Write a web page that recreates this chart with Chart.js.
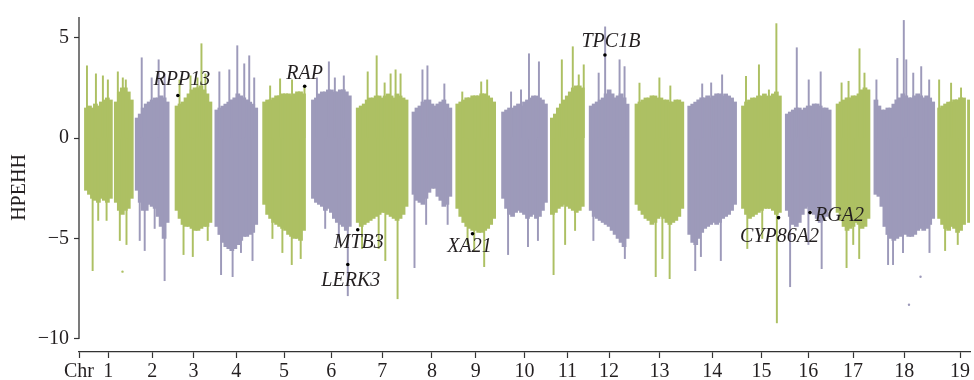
<!DOCTYPE html>
<html>
<head>
<meta charset="utf-8">
<script src="https://cdn.jsdelivr.net/npm/chart.js@4.4.1/dist/chart.umd.min.js"></script>
<style>
  html, body { margin: 0; padding: 0; background: #fff; }
  #wrap { width: 974px; height: 380px; }
</style>
</head>
<body>
<div id="wrap"><canvas id="chart"></canvas></div>
<script>
// chromosome extents along the genome axis (cumulative Mb)
const chrNames = ['1','2','3','4','5','6','7','8','9','10','11','12','13','14','15','16','17','18','19'];
const chrStart = [6, 57, 97, 137, 185, 234, 279, 335, 379, 425, 474, 513, 559, 612, 666, 710, 761, 799, 863];
const chrEnd   = [53, 90, 133, 179, 227, 273, 330, 374, 418, 470, 507, 552, 607, 660, 705, 755, 794, 859, 907];

// dense band of HPEHH values per chromosome, in 3 Mb windows (upper / lower edge)
const bodyHigh = [
  [1.5,1.6,1.5,1.7,1.6,1.8,1.9,2.0,1.9,null,1.8,2.3,2.5,2.5,2.3,1.9],
  [1.0,1.2,1.5,1.7,1.8,1.9,2.0,2.0,2.1,2.0,1.8],
  [1.6,1.7,1.8,2.0,2.2,2.4,2.5,2.5,2.6,2.4,2.2,1.8],
  [1.4,1.5,1.6,1.7,1.8,1.9,2.0,2.2,2.1,2.0,1.9,1.8,1.7,1.5],
  [1.8,1.9,1.9,2.0,2.1,2.1,2.2,2.2,2.2,2.1,2.2,2.3,2.3,2.2],
  [1.9,2.0,2.2,2.3,2.3,2.4,2.4,2.3,2.3,2.4,2.4,2.3,2.1],
  [1.5,1.6,1.7,1.9,2.0,2.0,2.1,2.1,2.0,2.1,2.2,2.1,2.0,2.2,2.1,2.0,1.9],
  [1.3,1.5,1.6,1.8,1.9,1.9,1.7,1.6,1.7,1.8,1.9,1.7,1.5],
  [1.7,1.8,1.9,2.0,2.0,2.1,2.1,2.1,2.2,2.2,2.1,2.0,1.8],
  [1.3,1.4,1.5,1.5,1.6,1.7,1.6,1.8,1.9,2.0,2.1,2.1,2.0,1.9,1.7],
  [1.0,1.2,1.5,1.7,1.9,2.1,2.3,2.5,2.6,2.6,2.5],
  [1.6,1.7,1.8,1.9,2.0,2.2,2.4,2.2,2.0,2.1,2.2,2.0,1.7],
  [1.7,1.8,1.9,2.0,2.0,2.1,2.1,2.0,2.0,1.9,1.9,1.8,1.8,1.9,1.9,1.8],
  [1.6,1.7,1.8,1.9,2.0,2.0,2.1,2.0,2.1,2.2,2.2,2.1,2.2,2.1,2.0,1.8],
  [1.6,1.8,1.9,2.0,2.0,2.1,2.1,2.2,2.1,2.1,2.2,2.3,2.1],
  [1.2,1.3,1.4,1.5,1.5,1.4,1.5,1.6,1.6,1.7,1.7,1.6,1.5,1.5,1.4],
  [1.7,1.8,1.9,2.0,2.0,2.1,2.1,2.2,2.4,2.5,2.4],
  [1.9,1.6,1.4,1.4,1.5,1.5,1.7,1.9,2.0,2.2,2.1,2.0,2.0,2.1,2.2,2.1,2.0,2.1,2.0,1.8],
  [1.5,1.6,1.7,1.8,1.8,1.9,1.9,2.0,2.0,null,1.9,1.9,1.9,1.9,1.9]
];
const bodyLow = [
  [-2.6,-2.8,-3.0,-3.1,-3.2,-3.0,-3.1,-3.2,-3.0,null,-3.2,-3.6,-3.8,-3.6,-3.5,-3.0],
  [-2.6,-3.2,-3.6,-3.6,-3.3,-3.4,-3.5,-3.9,-4.4,-5.0,-4.2],
  [-3.6,-4.0,-4.3,-4.4,-4.4,-4.5,-4.6,-4.6,-4.5,-4.4,-4.4,-4.2],
  [-4.4,-4.8,-5.2,-5.4,-5.5,-5.6,-5.5,-5.3,-5.1,-4.9,-4.9,-4.8,-4.7,-4.3],
  [-3.3,-3.8,-4.0,-4.2,-4.3,-4.4,-4.5,-4.6,-4.8,-4.9,-5.0,-5.0,-5.1,-4.6],
  [-3.0,-3.2,-3.3,-3.4,-3.6,-3.5,-3.7,-4.0,-4.2,-4.3,-4.4,-4.6,-4.4],
  [-4.2,-4.4,-4.3,-4.2,-4.1,-4.0,-3.9,-3.8,-3.7,-3.7,-3.8,-3.9,-4.0,-4.1,-4.0,-3.8,-3.4],
  [-2.8,-3.1,-3.2,-3.3,-3.0,-2.7,-2.5,-2.5,-2.9,-3.1,-3.4,-3.3,-2.9],
  [-3.5,-3.9,-4.2,-4.4,-4.5,-4.6,-4.6,-4.7,-4.7,-4.6,-4.5,-4.3,-4.0],
  [-3.0,-3.5,-3.8,-3.9,-3.7,-3.6,-3.7,-3.8,-4.0,-3.9,-3.8,-4.0,-3.9,-3.6,-3.2],
  [-3.8,-3.7,-3.5,-3.4,-3.3,-3.4,-3.5,-3.6,-3.7,-3.6,-3.4],
  [-3.6,-3.9,-4.0,-4.1,-4.2,-4.3,-4.4,-4.6,-4.8,-5.0,-5.2,-5.4,-5.0],
  [-3.3,-3.6,-3.8,-4.0,-4.1,-4.3,-4.2,-4.0,-3.9,-4.0,-4.2,-4.3,-4.2,-4.1,-3.9,-3.5],
  [-4.8,-5.2,-5.3,-5.0,-4.7,-4.5,-4.4,-4.3,-4.2,-4.3,-4.2,-4.0,-3.9,-3.8,-3.6,-3.3],
  [-3.5,-3.8,-4.0,-3.9,-3.8,-3.7,-3.6,-3.5,-3.5,-3.5,-3.6,-3.8,-3.7],
  [-3.6,-3.9,-4.3,-4.4,-4.2,-3.8,-3.5,-3.4,-3.6,-3.8,-4.0,-4.2,-4.1,-3.9,-3.6],
  [-3.7,-4.1,-4.4,-4.6,-4.5,-4.4,-4.2,-4.3,-4.5,-4.4,-4.0],
  [-2.8,-2.9,-3.4,-4.4,-4.8,-5.0,-5.1,-5.0,-4.9,-4.7,-4.8,-4.9,-4.9,-4.8,-4.6,-4.5,-4.6,-4.5,-4.3,-4.0],
  [-4.0,-4.3,-4.5,-4.6,-4.4,-4.5,-4.7,-4.6,-4.3,null,-4.2,-4.2,-4.2,-4.2,-4.2]
];

// isolated peaks above / below the dense band
const peakX = [8,17,24,29,39,44,47, 63,80,73,86, 101,112,123,119,127, 141,151,159,166,171,176,
  192,202,214,226.5, 239,251,257,266, 290,299,307,313,318,323, 345,350,367, 385,404,410,
  434,444,452,462, 485,496,502,507, 522,528.5,543,548, 563,583,594, 626,635,646,
  670,683,693,700.5, 721,733,745, 766,773,784,789, 801,822,828.5,831,838,846,854, 864,876,886];
const peakY = [3.6,3.2,3.1,2.9,3.3,3.0,2.9, 4.0,3.9,3.0,3.2, 2.9,3.1,4.7,3.0,3.2, 3.3,3.4,4.6,3.7,4.1,3.0,
  2.6,2.95,2.9,2.6, 3.0,3.8,3.0,3.1, 3.3,4.1,2.75,3.2,3.4,3.2, 3.4,3.6,2.7, 2.3,2.8,2.9,
  2.3,2.4,4.2,3.8, 3.9,4.55,3.15,3.65, 3.24,5.54,3.9,3.56, 2.74,3.0,2.6, 2.7,2.75,3.15,
  3.07,3.65,2.4,5.7, 4.5,2.9,3.3, 2.75,2.83,4.45,3.24, 2.9,3.97,5.86,3.9,3.24,3.56,2.9, 2.9,2.74,2.5];
const dipX = [13.7,19.3,27.7,41,47.7, 61,66,76,86, 105,114.3,129.3, 142.7,154.3,162.7,174.3,
  194.3,204.3,213.7,222.7, 247.3,261,270, 284.3,301,307.7,320, 337,348.7,370.3, 390.3,397,407,
  431,451,461, 476.7,488.3,498.3, 516.7,548.3, 579.3,586,593.3, 619,624.7,644.7,
  671.3,686.3,701, 714.3,732.7,746, 771,777.7,783.7, 812.7,817.7,827.7,854.3, 870,882.7];
const dipY = [-6.6,-4.1,-4.1,-5.1,-5.3, -5.1,-5.6,-4.5,-7.1, -5.8,-5.9,-5.1, -6.8,-6.9,-5.7,-6.1,
  -5.0,-5.7,-6.3,-6.0, -4.5,-5.2,-7.85, -5.5,-5.5,-6.1,-8.0, -6.45,-4.3,-4.3, -5.3,-5.6,-6.4,
  -5.8,-5.4,-5.1, -6.8,-5.3,-4.6, -5.1,-6.0, -6.9,-6.0,-7.0, -6.6,-5.9,-6.1,
  -5.5,-5.0,-9.2, -7.4,-5.3,-6.5, -6.45,-5.3,-6.0, -6.3,-6.3,-5.7,-5.7, -5.6,-5.3];
const strayX = [43.7, 833.7, 845.3];
const strayY = [-6.65, -8.3, -6.9];

// candidate genes
const geneNames = ['RPP13','RAP','TPC1B','MTB3','LERK3','XA21','CYP86A2','RGA2'];
const geneX = [99.3, 226.7, 528.3, 280, 270, 395.3, 702.7, 734.3];
const geneY = [2.12, 2.58, 4.14, -4.56, -6.29, -4.76, -3.96, -3.71];

const yTicks = [-10, -5, 0, 5];
const xTickLabels = ['Chr'].concat(chrNames);
const xTickPos = [0].concat(chrStart.map((s, i) => (s + chrEnd[i]) / 2));

const colors = ['#adc063', '#9d9aba'];
const serif = '"Liberation Serif", "Times New Roman", serif';

function chrOf(x) {
  for (let i = 0; i < chrStart.length; i++) {
    if (x <= chrEnd[i] + 2) return i;
  }
  return chrStart.length - 1;
}

const bodyData = [];
bodyHigh.forEach((his, c) => {
  his.forEach((hi, k) => {
    if (hi === null) return;
    bodyData.push({ x: chrStart[c] + 1.5 + 3 * k, y: [bodyLow[c][k], hi], c: c });
  });
});
const peakData = peakX.map((x, i) => ({ x: x, y: [0, peakY[i]], c: chrOf(x) }))
  .concat(dipX.map((x, i) => ({ x: x, y: [dipY[i], 0], c: chrOf(x) })));
const strayData = strayX.map((x, i) => ({ x: x, y: strayY[i], c: chrOf(x) }));
const geneData = geneX.map((x, i) => ({ x: x, y: geneY[i] }));

// label offsets from the gene dot, in px
const labelDx = [4, 0, 6, 1, 3, -3, 1, 5];
const labelDy = [-16, -13, -13, 13, 16, 13, 19, 3];
const labelAlign = ['center','center','center','center','center','center','center','left'];

const byChr = ctx => colors[ctx.raw ? ctx.raw.c % 2 : 0];

const overlay = {
  id: 'overlay',
  afterDraw(chart) {
    const { ctx, chartArea, scales } = chart;
    const x = scales.x, y = scales.y;
    ctx.save();
    // detached y axis line, ends at the -10 tick
    ctx.strokeStyle = '#333';
    ctx.lineWidth = 1.3;
    ctx.beginPath();
    ctx.moveTo(chartArea.left, chartArea.top);
    ctx.lineTo(chartArea.left, y.getPixelForValue(-10));
    ctx.stroke();

    // axis title
    ctx.fillStyle = '#231f20';
    ctx.font = '20px ' + serif;
    ctx.textAlign = 'center';
    ctx.textBaseline = 'middle';
    ctx.save();
    ctx.translate(20, 187.5);
    ctx.rotate(-Math.PI / 2);
    ctx.fillText('HPEHH', 0, 0);
    ctx.restore();

    // gene labels
    ctx.font = 'italic 20px ' + serif;
    geneNames.forEach((name, i) => {
      const px = x.getPixelForValue(geneX[i]);
      const py = y.getPixelForValue(geneY[i]);
      ctx.textAlign = labelAlign[i];
      ctx.fillText(name, px + labelDx[i], py + labelDy[i]);
    });
    ctx.restore();
  }
};

new Chart(document.getElementById('chart'), {
  type: 'bar',
  data: {
    datasets: [
      { order: 3, data: bodyData, backgroundColor: byChr, barThickness: 4.1, grouped: false, borderWidth: 0 },
      { order: 2, data: peakData, backgroundColor: byChr, barThickness: 1.3, grouped: false, borderWidth: 0 },
      { order: 1, type: 'scatter', data: strayData, backgroundColor: byChr, pointRadius: 1.2, borderWidth: 0 },
      { order: 0, type: 'scatter', data: geneData, backgroundColor: '#000', pointRadius: 1.8, borderWidth: 0 }
    ]
  },
  options: {
    responsive: true,
    maintainAspectRatio: false,
    animation: false,
    layout: { padding: { top: 13.3, left: 0, right: 0, bottom: 0 } },
    plugins: { legend: { display: false }, tooltip: { enabled: false } },
    scales: {
      x: {
        type: 'linear',
        min: 0,
        max: 895,
        offset: false,
        grid: { display: true, offset: false, drawOnChartArea: false, drawTicks: true, tickLength: 6, tickColor: '#333', tickWidth: 1.2 },
        border: { display: true, color: '#333', width: 1.3 },
        afterBuildTicks: s => { s.ticks = xTickPos.map(v => ({ value: v })); },
        afterFit: s => { s.height = 28; s.paddingLeft = 0; s.paddingRight = 0; },
        ticks: {
          autoSkip: false,
          maxRotation: 0,
          padding: 2,
          color: '#231f20',
          font: { family: serif, size: 20 },
          callback: (v, i) => xTickLabels[i]
        }
      },
      y: {
        min: -10.65,
        max: 6.03,
        grid: { display: true, drawOnChartArea: false, drawTicks: true, tickLength: 5, tickColor: '#333', tickWidth: 1.2 },
        border: { display: false },
        afterBuildTicks: s => { s.ticks = yTicks.map(v => ({ value: v })); },
        afterFit: s => { s.width = 79; },
        ticks: {
          padding: 5,
          color: '#231f20',
          font: { family: serif, size: 20 },
          callback: v => (v < 0 ? '\u2212' + Math.abs(v) : String(v))
        }
      }
    }
  },
  plugins: [overlay]
});
</script>
</body>
</html>
